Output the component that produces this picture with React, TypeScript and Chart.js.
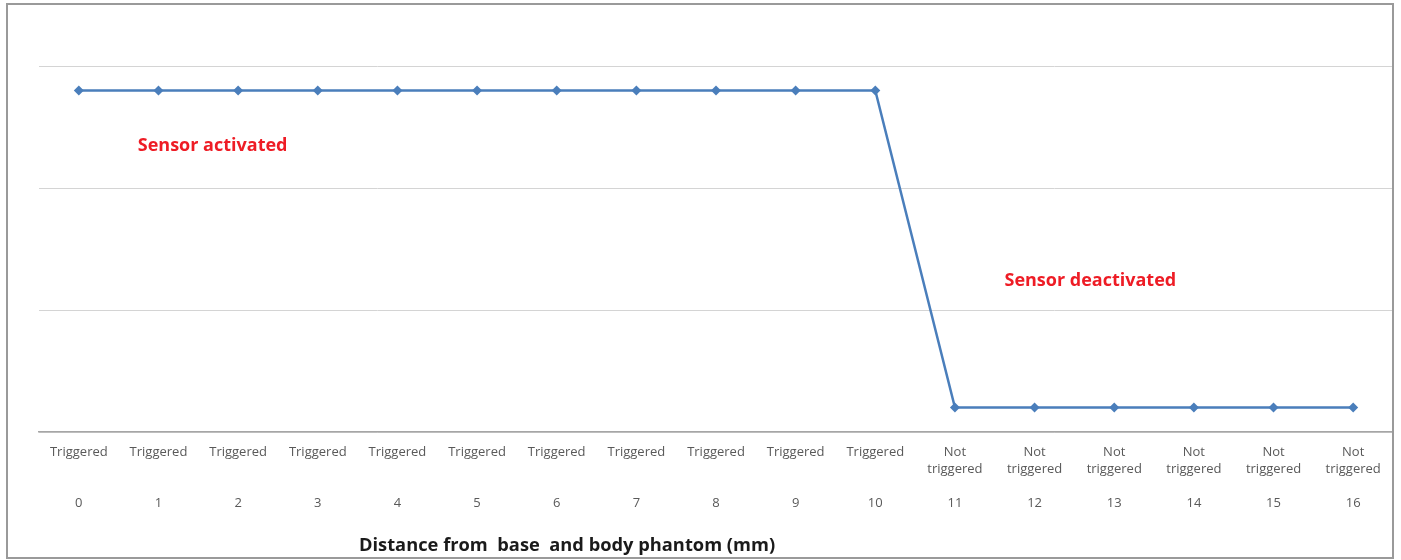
import React, { useEffect, useRef } from "react";
import { Chart, registerables } from "chart.js";

Chart.register(...registerables);

const distances = ["0", "1", "2", "3", "4", "5", "6", "7", "8", "9", "10", "11", "12", "13", "14", "15", "16"];
const statusLabels: string[][] = [
  ["Triggered"], ["Triggered"], ["Triggered"], ["Triggered"], ["Triggered"], ["Triggered"],
  ["Triggered"], ["Triggered"], ["Triggered"], ["Triggered"], ["Triggered"],
  ["Not", "triggered"], ["Not", "triggered"], ["Not", "triggered"], ["Not", "triggered"],
  ["Not", "triggered"], ["Not", "triggered"],
];
const sensorState = [2.8, 2.8, 2.8, 2.8, 2.8, 2.8, 2.8, 2.8, 2.8, 2.8, 2.8, 0.2, 0.2, 0.2, 0.2, 0.2, 0.2];
const yTicks = [0, 1, 2, 3];
const annotations = [
  { text: "Sensor activated", x: 1.68, y: 2.345 },
  { text: "Sensor deactivated", x: 12.7, y: 1.235 },
];
const axisTitle = "Distance from  base  and body phantom (mm)";

const FONT = "'Open Sans', Lato, sans-serif";

export default function App() {
  const ref = useRef<HTMLCanvasElement | null>(null);

  useEffect(() => {
    if (!ref.current) return;
    const labels = distances.map((d, i) => {
      const s = statusLabels[i];
      const lines = [...s];
      while (lines.length < 3) lines.push("");
      lines.push(d);
      return lines;
    });

    const decor = {
      id: "decor",
      beforeDraw(chart: any) {
        const { ctx, width, height } = chart;
        ctx.save();
        ctx.fillStyle = "#ffffff";
        ctx.fillRect(0, 0, width, height);
        ctx.restore();
      },
      afterDraw(chart: any) {
        const { ctx, width, height, chartArea } = chart;
        const xs = chart.scales.x;
        const ys = chart.scales.y;
        ctx.save();
        ctx.strokeStyle = "#9a9a9a";
        ctx.lineWidth = 2;
        ctx.strokeRect(7, 4, width - 15, height - 6);
        ctx.fillStyle = "#ee1c25";
        ctx.font = "bold 18px " + FONT;
        ctx.textAlign = "center";
        ctx.textBaseline = "middle";
        annotations.forEach((a) => {
          ctx.fillText(a.text, xs.getPixelForValue(a.x), ys.getPixelForValue(a.y));
        });
        ctx.fillStyle = "#1a1a1a";
        ctx.font = "bold 18.3px " + FONT;
        const cx = chartArea.left + (chartArea.right - chartArea.left) * 0.39;
        ctx.fillText(axisTitle, cx, 546);
        ctx.restore();
      },
    };

    const chart = new Chart(ref.current, {
      type: "line",
      data: {
        labels,
        datasets: [
          {
            data: sensorState,
            borderColor: "#4a7ebb",
            backgroundColor: "#4a7ebb",
            borderWidth: 2.5,
            pointStyle: "rectRot",
            pointRadius: 5,
            pointBorderWidth: 0,
            tension: 0,
          },
        ],
      },
      options: {
        animation: false,
        responsive: false,
        layout: { padding: { top: 66, left: 39, right: 8, bottom: 0 } },
        plugins: { legend: { display: false }, tooltip: { enabled: false } },
        scales: {
          x: {
            offset: true,
            grid: { display: false, drawTicks: false },
            border: { display: true, color: "#a6a6a6", width: 1.5 },
            ticks: {
              color: "#595959",
              font: { family: FONT, size: 13, lineHeight: 1.31 },
              padding: 12,
              maxRotation: 0,
              autoSkip: false,
            },
            afterFit: (scale: any) => {
              scale.height = 128;
            },
          },
          y: {
            min: 0,
            max: 3,
            afterBuildTicks: (scale: any) => {
              scale.ticks = yTicks.map((v) => ({ value: v }));
            },
            ticks: { display: false },
            grid: { color: "#d4d4d4", lineWidth: 1, drawTicks: false },
            border: { display: false },
          },
        },
      },
      plugins: [decor],
    });
    return () => chart.destroy();
  }, []);

  return (
    <div style={{ position: "fixed", left: 0, top: 0, width: 1401, height: 560, background: "#fff" }}>
      <canvas ref={ref} width={1401} height={560} style={{ width: 1401, height: 560, display: "block" }} />
    </div>
  );
}
